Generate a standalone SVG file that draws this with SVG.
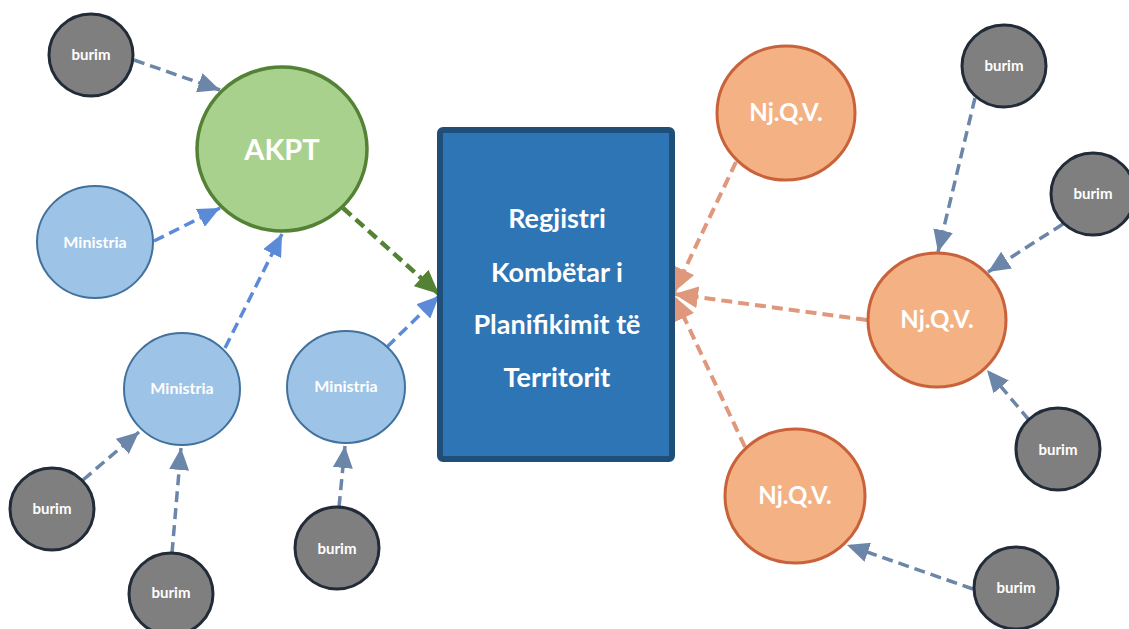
<svg xmlns="http://www.w3.org/2000/svg" width="1129" height="629" viewBox="0 0 1129 629">
<style>
text{font-family:Lato,"Open Sans","Liberation Sans",sans-serif;font-weight:bold;fill:#fff;text-anchor:middle}
.burim ellipse{fill:#7f7f7f;stroke:#222b38;stroke-width:3}
.burim text{font-size:15px}
.min ellipse{fill:#9dc3e6;stroke:#41719c;stroke-width:2}
.min text{font-size:16px}
.nj ellipse{fill:#f4b183;stroke:#c9623a;stroke-width:3}
.nj text{font-size:24px}
.c{fill:none;stroke-dasharray:11 6}
.s{stroke:#6b86a8;stroke-width:3.5}
.b{stroke:#5b8ad8;stroke-width:3.5}
.g{stroke:#548235;stroke-width:4.5}
.o{stroke:#df987c;stroke-width:4}
</style>
<defs>
<marker id="ms" markerUnits="userSpaceOnUse" viewBox="0 0 22 20" refX="22" refY="10" markerWidth="22" markerHeight="20" orient="auto"><path d="M0,0L22,10L0,20z" fill="#6b86a8"/></marker>
<marker id="mb" markerUnits="userSpaceOnUse" viewBox="0 0 22 20" refX="22" refY="10" markerWidth="22" markerHeight="20" orient="auto"><path d="M0,0L22,10L0,20z" fill="#5b8ad8"/></marker>
<marker id="mg" markerUnits="userSpaceOnUse" viewBox="0 0 24 22" refX="24" refY="11" markerWidth="24" markerHeight="22" orient="auto"><path d="M0,0L24,11L0,22z" fill="#548235"/></marker>
<marker id="mo" markerUnits="userSpaceOnUse" viewBox="0 0 24 22" refX="24" refY="11" markerWidth="24" markerHeight="22" orient="auto"><path d="M0,0L24,11L0,22z" fill="#df987c"/></marker>
</defs>
<g id="connectors">
<line class="c s" x1="134" y1="60" x2="220" y2="90" marker-end="url(#ms)"/>
<line class="c b" x1="154" y1="241" x2="220" y2="208" marker-end="url(#mb)"/>
<line class="c b" x1="225" y1="348" x2="282" y2="234" marker-end="url(#mb)"/>
<line class="c b" x1="387" y1="347" x2="439" y2="296" marker-end="url(#mb)"/>
<line class="c g" x1="343" y1="208" x2="439" y2="294" marker-end="url(#mg)"/>
<line class="c s" x1="83" y1="480" x2="139" y2="432" marker-end="url(#ms)"/>
<line class="c s" x1="172" y1="553" x2="181" y2="448" marker-end="url(#ms)"/>
<line class="c s" x1="339" y1="507" x2="345" y2="446" marker-end="url(#ms)"/>
<line class="c o" x1="736" y1="162" x2="674" y2="292" marker-end="url(#mo)"/>
<line class="c o" x1="867" y1="320" x2="674" y2="294" marker-end="url(#mo)"/>
<line class="c o" x1="745" y1="447" x2="674" y2="296" marker-end="url(#mo)"/>
<line class="c s" x1="975" y1="98" x2="938" y2="252" marker-end="url(#ms)"/>
<line class="c s" x1="1063" y1="224" x2="988" y2="272" marker-end="url(#ms)"/>
<line class="c s" x1="1029" y1="420" x2="987" y2="370" marker-end="url(#ms)"/>
<line class="c s" x1="973" y1="589" x2="847" y2="545" marker-end="url(#ms)"/>
</g>
<g id="registry">
<rect x="440" y="130" width="232" height="329" rx="3" fill="#2e75b6" stroke="#1f4e79" stroke-width="6"/>
<text x="557" y="228" font-size="27">Regjistri</text>
<text x="557" y="282" font-size="27">Kombëtar i</text>
<text x="557" y="334" font-size="27">Planifikimit të</text>
<text x="557" y="387" font-size="27">Territorit</text>
</g>
<g id="akpt">
<ellipse cx="282" cy="149" rx="85" ry="82" fill="#a9d18e" stroke="#548235" stroke-width="3.5"/>
<text x="282" y="160" font-size="29">AKPT</text>
</g>
<g id="ministria1" class="min"><ellipse cx="95" cy="242" rx="58" ry="56"/><text x="95" y="248">Ministria</text></g>
<g id="ministria2" class="min"><ellipse cx="182" cy="389" rx="58" ry="56"/><text x="182" y="394">Ministria</text></g>
<g id="ministria3" class="min"><ellipse cx="346" cy="387" rx="59" ry="56"/><text x="346" y="392">Ministria</text></g>
<g id="burim1" class="burim"><ellipse cx="91" cy="55" rx="42" ry="41"/><text x="91" y="60">burim</text></g>
<g id="burim2" class="burim"><ellipse cx="52" cy="509" rx="42" ry="41"/><text x="52" y="514">burim</text></g>
<g id="burim3" class="burim"><ellipse cx="171" cy="594" rx="42" ry="41"/><text x="171" y="598">burim</text></g>
<g id="burim4" class="burim"><ellipse cx="337" cy="548" rx="42" ry="41"/><text x="337" y="554">burim</text></g>
<g id="burim5" class="burim"><ellipse cx="1004" cy="66" rx="42" ry="41"/><text x="1004" y="71">burim</text></g>
<g id="burim6" class="burim"><ellipse cx="1093" cy="194" rx="42" ry="41"/><text x="1093" y="199">burim</text></g>
<g id="burim7" class="burim"><ellipse cx="1058" cy="449" rx="42" ry="41"/><text x="1058" y="455">burim</text></g>
<g id="burim8" class="burim"><ellipse cx="1016" cy="588" rx="42" ry="41"/><text x="1016" y="593">burim</text></g>
<g id="njqv1" class="nj"><ellipse cx="786" cy="113" rx="69" ry="67"/><text x="786" y="121">Nj.Q.V.</text></g>
<g id="njqv2" class="nj"><ellipse cx="937" cy="320" rx="69" ry="67"/><text x="937" y="328">Nj.Q.V.</text></g>
<g id="njqv3" class="nj"><ellipse cx="795" cy="496" rx="70" ry="67"/><text x="795" y="504">Nj.Q.V.</text></g>
</svg>
